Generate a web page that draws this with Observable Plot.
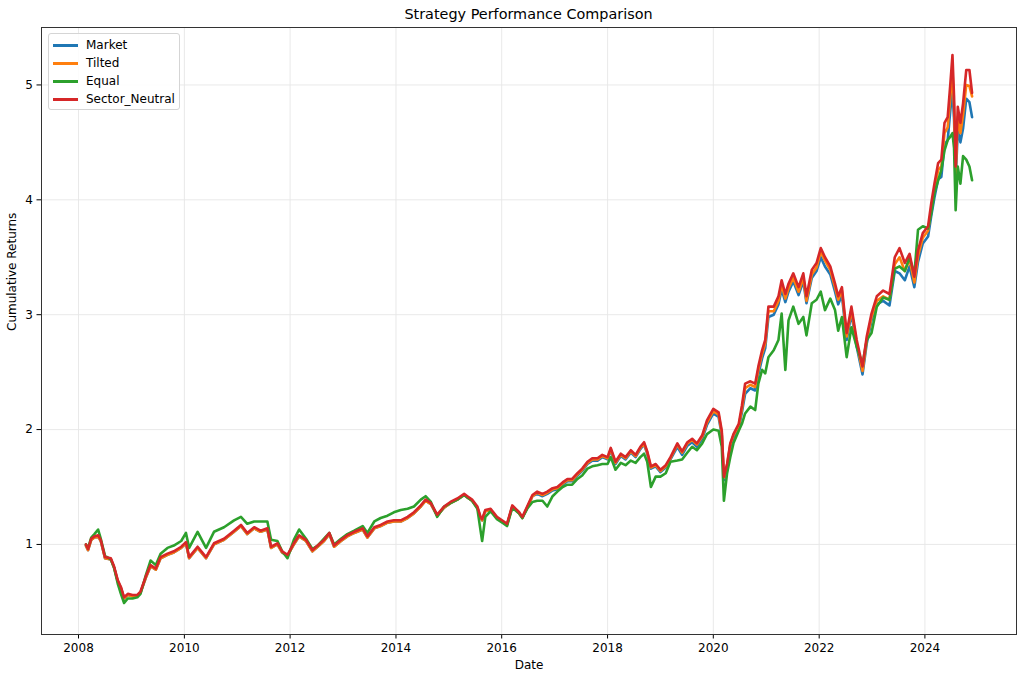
<!DOCTYPE html>
<html>
<head>
<meta charset="utf-8">
<script src="https://cdn.jsdelivr.net/npm/d3@7"></script>
<script src="https://cdn.jsdelivr.net/npm/@observablehq/plot@0.6"></script>
<style>
  html, body { margin: 0; padding: 0; background: #fff; }
  #wrap { position: relative; width: 1024px; height: 680px; font-family: "DejaVu Sans", sans-serif; }
  #title { position: absolute; left: 41px; width: 975px; top: 6px; text-align: center; font-size: 14.4px; color: #000; }
  #chart { position: absolute; left: 0; top: 22px; }
  #legend { position: absolute; left: 48px; top: 33px; width: 130px; height: 75px; border: 1px solid #d5d5d5; border-radius: 3px; background: rgba(255,255,255,0.85); }
  .item { position: absolute; left: 0; height: 18px; width: 130px; font-size: 12px; color: #000; }
  .sw { position: absolute; left: 4px; top: 8px; width: 25px; height: 2.6px; }
  .lb { position: absolute; left: 37px; top: 2px; }
</style>
</head>
<body>
<div id="wrap">
  <div id="title"></div>
  <div id="chart"></div>
  <div id="legend"></div>
</div>
<script>
const titleText = "Strategy Performance Comparison";
const xLabel = "Date";
const yLabel = "Cumulative Returns";
const seriesNames = ["Market", "Tilted", "Equal", "Sector_Neutral"];
const seriesColors = ["#1f77b4", "#ff7f0e", "#2ca02c", "#d62728"];
const xTickYears = [2008, 2010, 2012, 2014, 2016, 2018, 2020, 2022, 2024];
const yTicks = [1, 2, 3, 4, 5];

// dates as decimal years
const dates = [
  2008.14, 2008.18, 2008.24, 2008.30, 2008.37, 2008.42, 2008.50, 2008.61, 2008.67, 2008.74, 2008.80, 2008.86, 2008.93,
  2009.02, 2009.11, 2009.17, 2009.27, 2009.36, 2009.46, 2009.55, 2009.68, 2009.80, 2009.94,
  2010.03, 2010.09, 2010.25, 2010.41, 2010.56, 2010.75, 2010.94,
  2011.07, 2011.19, 2011.32, 2011.44, 2011.57, 2011.64, 2011.76, 2011.85, 2011.95,
  2012.07, 2012.17, 2012.30, 2012.42, 2012.52, 2012.64, 2012.74, 2012.83, 2012.96,
  2013.08, 2013.21, 2013.37, 2013.46, 2013.59, 2013.71, 2013.84, 2013.96,
  2014.09, 2014.22, 2014.34, 2014.47, 2014.56, 2014.66, 2014.78, 2014.91,
  2015.03, 2015.16, 2015.29, 2015.35, 2015.44, 2015.54, 2015.60, 2015.63, 2015.69, 2015.79, 2015.91,
  2016.04, 2016.10, 2016.20, 2016.33, 2016.39, 2016.48, 2016.58, 2016.67, 2016.77, 2016.86, 2016.96,
  2017.05, 2017.15, 2017.24, 2017.33, 2017.43, 2017.52, 2017.62, 2017.71, 2017.81, 2017.90,
  2018.00, 2018.06, 2018.15, 2018.25, 2018.34, 2018.44, 2018.53, 2018.62, 2018.69, 2018.75, 2018.82, 2018.91,
  2019.00, 2019.10, 2019.19, 2019.32, 2019.41, 2019.51, 2019.60, 2019.69, 2019.79, 2019.88,
  2020.00, 2020.10, 2020.16, 2020.20, 2020.26, 2020.32, 2020.38, 2020.48, 2020.54, 2020.60, 2020.70, 2020.79, 2020.85, 2020.92, 2020.98,
  2021.04, 2021.14, 2021.23, 2021.29, 2021.36, 2021.42, 2021.51, 2021.61, 2021.70, 2021.76, 2021.86, 2021.95,
  2022.03, 2022.11, 2022.21, 2022.30, 2022.36, 2022.43, 2022.52, 2022.61, 2022.71, 2022.82, 2022.90, 2022.99,
  2023.09, 2023.21, 2023.33, 2023.43, 2023.52, 2023.62, 2023.71, 2023.80, 2023.87, 2023.96,
  2024.06, 2024.12, 2024.18, 2024.25, 2024.31, 2024.37, 2024.43, 2024.48, 2024.52, 2024.55, 2024.58, 2024.62, 2024.67, 2024.72, 2024.78, 2024.84, 2024.89
];

const market = [
  0.99, 0.95, 1.04, 1.06, 1.07, 1.03, 0.88, 0.87, 0.80, 0.68, 0.62, 0.53, 0.56,
  0.55, 0.55, 0.58, 0.71, 0.81, 0.78, 0.88, 0.91, 0.93, 0.97,
  1.01, 0.88, 0.97, 0.88, 1.00, 1.04, 1.11,
  1.16, 1.09, 1.14, 1.11, 1.13, 0.97, 1.00, 0.93, 0.90,
  1.00, 1.07, 1.03, 0.94, 0.98, 1.03, 1.09, 0.98, 1.03,
  1.07, 1.10, 1.13, 1.06, 1.14, 1.16, 1.19, 1.20,
  1.20, 1.23, 1.27, 1.33, 1.38, 1.35, 1.25, 1.32,
  1.36, 1.39, 1.43, 1.41, 1.38, 1.32, 1.23, 1.21, 1.29, 1.30, 1.23,
  1.19, 1.17, 1.33, 1.27, 1.23, 1.32, 1.42, 1.44, 1.42, 1.44, 1.47,
  1.48, 1.52, 1.55, 1.55, 1.60, 1.64, 1.70, 1.73, 1.73, 1.76,
  1.74, 1.82, 1.70, 1.77, 1.74, 1.80, 1.76, 1.83, 1.87, 1.79, 1.66, 1.68,
  1.63, 1.67, 1.74, 1.85, 1.78, 1.86, 1.89, 1.85, 1.92, 2.04,
  2.14, 2.11, 1.95, 1.56, 1.67, 1.85, 1.93, 2.01, 2.15, 2.31, 2.36, 2.34, 2.48, 2.62, 2.71,
  2.98, 3.00, 3.09, 3.22, 3.11, 3.20, 3.29, 3.17, 3.29, 3.10, 3.32, 3.38,
  3.50, 3.42, 3.35, 3.20, 3.09, 3.17, 2.78, 3.01, 2.72, 2.48, 2.75, 2.95,
  3.09, 3.12, 3.08, 3.38, 3.36, 3.30, 3.42, 3.24, 3.46, 3.62,
  3.68, 3.86, 4.02, 4.18, 4.20, 4.48, 4.52, 4.78, 4.95, 4.70, 4.15, 4.62, 4.50, 4.62, 4.88, 4.85, 4.72
];

const tilted = [
  0.99, 0.95, 1.04, 1.06, 1.07, 1.03, 0.88, 0.87, 0.80, 0.68, 0.62, 0.53, 0.56,
  0.55, 0.55, 0.58, 0.71, 0.81, 0.78, 0.88, 0.91, 0.93, 0.97,
  1.01, 0.88, 0.97, 0.88, 1.00, 1.04, 1.11,
  1.16, 1.09, 1.14, 1.11, 1.13, 0.97, 1.00, 0.93, 0.90,
  1.00, 1.07, 1.03, 0.94, 0.98, 1.03, 1.09, 0.98, 1.03,
  1.07, 1.10, 1.13, 1.06, 1.14, 1.16, 1.19, 1.20,
  1.20, 1.23, 1.27, 1.33, 1.38, 1.35, 1.25, 1.32,
  1.36, 1.39, 1.43, 1.41, 1.38, 1.32, 1.23, 1.21, 1.29, 1.30, 1.23,
  1.19, 1.17, 1.33, 1.27, 1.23, 1.32, 1.42, 1.45, 1.43, 1.45, 1.48,
  1.49, 1.53, 1.56, 1.56, 1.61, 1.65, 1.71, 1.74, 1.74, 1.77,
  1.75, 1.83, 1.71, 1.78, 1.75, 1.81, 1.77, 1.84, 1.88, 1.80, 1.67, 1.69,
  1.64, 1.68, 1.75, 1.87, 1.80, 1.88, 1.91, 1.87, 1.94, 2.06,
  2.16, 2.13, 1.97, 1.58, 1.69, 1.87, 1.95, 2.03, 2.18, 2.36, 2.39, 2.37, 2.52, 2.66, 2.75,
  3.03, 3.03, 3.12, 3.26, 3.14, 3.23, 3.32, 3.20, 3.32, 3.12, 3.35, 3.41,
  3.55, 3.47, 3.39, 3.24, 3.13, 3.21, 2.81, 3.04, 2.75, 2.51, 2.78, 2.98,
  3.12, 3.16, 3.13, 3.44, 3.50, 3.38, 3.48, 3.28, 3.51, 3.67,
  3.73, 3.92, 4.09, 4.26, 4.29, 4.58, 4.63, 4.90, 5.12, 4.80, 4.22, 4.72, 4.58, 4.74, 5.00, 4.99, 4.90
];

const equal = [
  1.00, 0.97, 1.06, 1.09, 1.13, 1.05, 0.90, 0.87, 0.80, 0.66, 0.57, 0.49, 0.53,
  0.53, 0.54, 0.57, 0.73, 0.86, 0.82, 0.92, 0.97, 0.99, 1.03,
  1.10, 0.97, 1.11, 0.97, 1.11, 1.15, 1.21,
  1.24, 1.18, 1.20, 1.20, 1.20, 1.04, 1.03, 0.94, 0.88,
  1.04, 1.13, 1.05, 0.96, 0.99, 1.05, 1.10, 1.00, 1.05,
  1.09, 1.12, 1.16, 1.10, 1.20, 1.23, 1.25, 1.28,
  1.30, 1.31, 1.33, 1.39, 1.42, 1.37, 1.24, 1.33,
  1.36, 1.39, 1.43, 1.41, 1.38, 1.31, 1.12, 1.03, 1.24, 1.29, 1.22,
  1.18, 1.16, 1.32, 1.27, 1.23, 1.31, 1.37, 1.38, 1.38, 1.33, 1.42,
  1.46, 1.50, 1.52, 1.52, 1.57, 1.60, 1.66, 1.68, 1.69, 1.70,
  1.70, 1.76, 1.65, 1.71, 1.69, 1.73, 1.71, 1.76, 1.79, 1.72, 1.50, 1.59,
  1.59, 1.62, 1.72, 1.73, 1.74, 1.80, 1.85, 1.82, 1.88, 1.96,
  2.00, 1.99, 1.85, 1.38, 1.62, 1.76, 1.88, 1.99, 2.05, 2.14, 2.20, 2.17, 2.40, 2.52, 2.49,
  2.63, 2.69, 2.78, 3.01, 2.52, 2.95, 3.07, 2.92, 2.98, 2.82, 3.10, 3.13,
  3.20, 3.04, 3.14, 3.04, 2.86, 2.98, 2.63, 2.89, 2.72, 2.57, 2.78, 2.84,
  3.07, 3.15, 3.13, 3.40, 3.42, 3.38, 3.50, 3.35, 3.74, 3.77,
  3.75, 3.88, 4.06, 4.17, 4.26, 4.43, 4.52, 4.55, 4.58, 4.45, 3.91, 4.29, 4.14, 4.38, 4.35, 4.29, 4.17
];

const sectorNeutral = [
  1.00, 0.96, 1.05, 1.07, 1.08, 1.04, 0.89, 0.88, 0.81, 0.69, 0.63, 0.54, 0.57,
  0.56, 0.56, 0.59, 0.72, 0.82, 0.79, 0.89, 0.92, 0.94, 0.98,
  1.02, 0.89, 0.98, 0.89, 1.01, 1.05, 1.12,
  1.17, 1.10, 1.15, 1.12, 1.14, 0.98, 1.01, 0.94, 0.91,
  1.01, 1.08, 1.04, 0.95, 0.99, 1.04, 1.10, 0.99, 1.04,
  1.08, 1.11, 1.14, 1.07, 1.15, 1.17, 1.20, 1.21,
  1.21, 1.24, 1.28, 1.34, 1.39, 1.36, 1.26, 1.33,
  1.37, 1.40, 1.44, 1.42, 1.39, 1.33, 1.24, 1.22, 1.30, 1.31, 1.24,
  1.20, 1.18, 1.34, 1.28, 1.24, 1.33, 1.43, 1.46, 1.44, 1.46, 1.49,
  1.50, 1.54, 1.57, 1.57, 1.62, 1.66, 1.72, 1.75, 1.75, 1.78,
  1.76, 1.84, 1.72, 1.79, 1.76, 1.82, 1.78, 1.85, 1.89, 1.81, 1.68, 1.70,
  1.65, 1.69, 1.76, 1.88, 1.81, 1.89, 1.92, 1.88, 1.95, 2.08,
  2.18, 2.15, 1.99, 1.59, 1.70, 1.88, 1.96, 2.05, 2.21, 2.40, 2.42, 2.40, 2.55, 2.69, 2.78,
  3.07, 3.07, 3.16, 3.30, 3.18, 3.27, 3.36, 3.24, 3.36, 3.16, 3.39, 3.45,
  3.58, 3.50, 3.42, 3.27, 3.16, 3.24, 2.84, 3.07, 2.78, 2.55, 2.81, 3.01,
  3.16, 3.21, 3.18, 3.50, 3.58, 3.45, 3.53, 3.33, 3.56, 3.71,
  3.77, 3.97, 4.14, 4.32, 4.35, 4.67, 4.72, 5.01, 5.26, 4.90, 4.29, 4.81, 4.67, 4.84, 5.13, 5.13, 4.93
];

const seriesValues = [market, tilted, equal, sectorNeutral];

function toDate(y) {
  const yr = Math.floor(y);
  const a = Date.UTC(yr, 0, 1), b = Date.UTC(yr + 1, 0, 1);
  return new Date(a + (y - yr) * (b - a));
}

const rows = seriesNames.flatMap((name, s) =>
  dates.map((d, i) => ({ date: toDate(d), value: seriesValues[s][i], series: name }))
);
const xTicks = xTickYears.map(y => new Date(Date.UTC(y, 0, 1)));

document.getElementById("title").textContent = titleText;

const chart = Plot.plot({
  width: 1024,
  height: 658,
  marginLeft: 41,
  marginRight: 8,
  marginTop: 5,
  marginBottom: 46,
  style: { fontFamily: "DejaVu Sans, sans-serif", fontSize: "12px", color: "#000", background: "transparent" },
  x: {
    type: "utc",
    domain: [toDate(2007.30), toDate(2025.73)],
    ticks: xTicks,
    tickFormat: d3.utcFormat("%Y"),
    tickSize: 4.5,
    tickPadding: 4,
    label: null
  },
  y: {
    domain: [0.216, 5.50],
    ticks: yTicks,
    tickFormat: d3.format("d"),
    tickSize: 4.5,
    tickPadding: 4,
    label: null
  },
  color: { domain: seriesNames, range: seriesColors },
  marks: [
    Plot.ruleX(xTicks, { stroke: "#e6e6e6", strokeWidth: 0.9 }),
    Plot.ruleY(yTicks, { stroke: "#e6e6e6", strokeWidth: 0.9 }),
    Plot.line(rows, { x: "date", y: "value", z: "series", stroke: "series", strokeWidth: 2.6, strokeLinejoin: "round" }),
    Plot.frame({ stroke: "#333", strokeWidth: 1 }),
    Plot.text([xLabel], { frameAnchor: "bottom", dy: 34, fontSize: 12, fill: "#000" }),
    Plot.text([yLabel], { frameAnchor: "left", dx: -29, rotate: -90, fontSize: 12, fill: "#000" })
  ]
});
document.getElementById("chart").appendChild(chart);

const legend = document.getElementById("legend");
seriesNames.forEach((name, i) => {
  const item = document.createElement("div");
  item.className = "item";
  item.style.top = (2 + i * 18) + "px";
  const sw = document.createElement("div");
  sw.className = "sw";
  sw.style.background = seriesColors[i];
  const lb = document.createElement("div");
  lb.className = "lb";
  lb.textContent = name;
  item.appendChild(sw);
  item.appendChild(lb);
  legend.appendChild(item);
});
</script>
</body>
</html>
